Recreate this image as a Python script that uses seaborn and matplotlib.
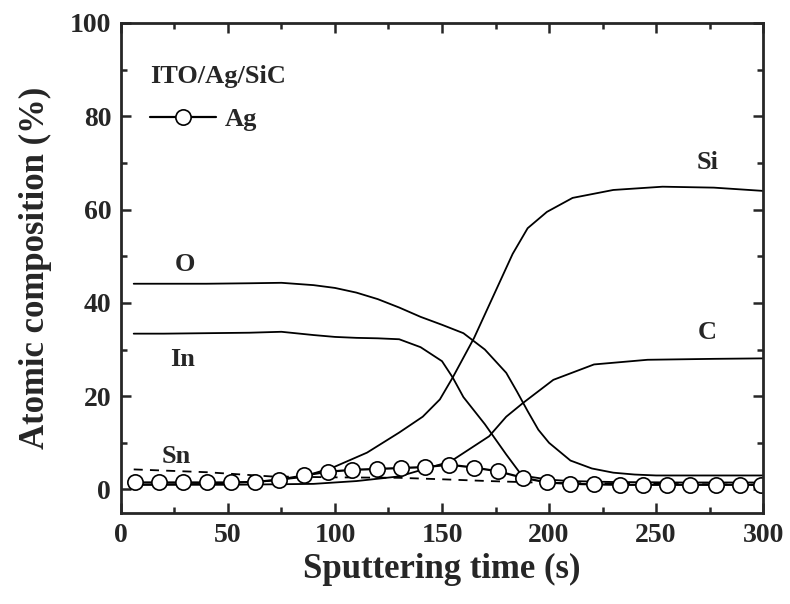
import numpy as np
import pandas as pd
import seaborn as sns
import matplotlib.pyplot as plt
from matplotlib.ticker import MultipleLocator

# depth profile values
t_o = [6, 20, 40, 60, 75, 90, 100, 110, 120, 130, 140, 150, 160, 170, 180, 185, 190, 195, 200, 210, 220, 230, 240, 250, 270, 300]
o = [44.1, 44.1, 44.1, 44.2, 44.3, 43.8, 43.2, 42.2, 40.8, 39.0, 37.0, 35.3, 33.5, 30.0, 25.0, 21.0, 16.8, 12.8, 10.0, 6.2, 4.5, 3.6, 3.2, 3.0, 3.0, 3.0]

t_in = [6, 20, 40, 60, 75, 90, 100, 110, 120, 130, 140, 150, 155, 160, 170, 180, 186, 190, 200, 210, 230, 260, 300]
ind = [33.4, 33.4, 33.5, 33.6, 33.8, 33.1, 32.7, 32.5, 32.4, 32.2, 30.5, 27.5, 24.0, 19.8, 14.0, 7.5, 3.8, 2.8, 2.1, 1.8, 1.6, 1.5, 1.5]

t_si = [6, 40, 68, 84, 99, 115, 130, 141, 149, 155, 165, 176, 183, 190, 199, 211, 230, 253, 277, 300]
si = [1.0, 1.2, 1.8, 2.6, 4.7, 7.9, 12.2, 15.6, 19.3, 24.0, 32.5, 43.5, 50.5, 56.0, 59.5, 62.5, 64.2, 64.9, 64.7, 64.0]

t_c = [6, 50, 90, 110, 130, 154, 172, 180, 188, 202, 221, 246, 277, 300]
c = [1.0, 1.0, 1.2, 1.8, 2.8, 6.0, 11.4, 15.6, 18.6, 23.5, 26.8, 27.8, 28.0, 28.1]

t_sn = [6, 40, 70, 100, 130, 149, 172, 200, 250, 300]
sn = [4.3, 3.7, 2.8, 2.6, 2.5, 2.2, 1.8, 1.4, 1.2, 1.0]

t_ag = [6.5, 17.8, 29, 40, 51.4, 62.5, 74, 85.5, 96.7, 108, 119.5, 131, 142, 153.5, 165, 176, 188, 199, 210, 221, 233, 244, 255, 266, 278, 289, 299]
ag = [1.5, 1.5, 1.5, 1.5, 1.5, 1.6, 2.1, 3.0, 3.8, 4.2, 4.4, 4.6, 4.8, 5.3, 4.7, 3.9, 2.5, 1.5, 1.2, 1.1, 1.0, 1.0, 1.0, 1.0, 1.0, 1.0, 1.0]

labels = {'O': (30, 48.2), 'In': (29, 27.8), 'Sn': (26, 7.1), 'Si': (274, 70), 'C': (274, 33.6)}

sns.set_style('ticks')
plt.rcParams['font.family'] = ['Liberation Serif', 'DejaVu Serif']
plt.rcParams['font.weight'] = 'bold'
plt.rcParams['axes.labelweight'] = 'bold'

fig = plt.figure(figsize=(7.9, 6.04), dpi=100)
ax = fig.add_axes([0.153, 0.151, 0.813, 0.811])

for tt, vv in [(t_o, o), (t_in, ind), (t_si, si), (t_c, c)]:
    sns.lineplot(x=tt, y=vv, ax=ax, color='black', lw=1.3)
sns.lineplot(x=t_sn, y=sn, ax=ax, color='black', lw=1.3, linestyle=(0, (5, 4)))
sns.lineplot(x=t_ag, y=ag, ax=ax, color='black', lw=1.6, marker='o', markersize=11,
             markerfacecolor='white', markeredgecolor='black', markeredgewidth=1.2, label='Ag')

for name, (lx, ly) in labels.items():
    ax.text(lx, ly, name, fontsize=19, fontweight='bold', ha='center', va='center')

ax.set_xlim(0, 300)
ax.set_ylim(-5, 100)
ax.xaxis.set_major_locator(MultipleLocator(50))
ax.xaxis.set_minor_locator(MultipleLocator(25))
ax.yaxis.set_major_locator(MultipleLocator(20))
ax.yaxis.set_minor_locator(MultipleLocator(10))
ax.tick_params(which='both', direction='in', top=True, right=True, width=1.8)
ax.tick_params(which='major', length=7, labelsize=20, pad=7)
ax.tick_params(which='minor', length=4.5)
for s in ax.spines.values():
    s.set_linewidth(2)
    s.set_visible(True)

ax.set_xlabel('Sputtering time (s)', fontsize=25, labelpad=4)
ax.set_ylabel('Atomic composition (%)', fontsize=25, labelpad=13)

leg = ax.legend(title='ITO/Ag/SiC', loc='upper left', bbox_to_anchor=(0.045, 0.915),
                frameon=False, fontsize=19, title_fontsize=19, handlelength=2.5,
                handletextpad=0.35, labelspacing=0.77, borderpad=0, borderaxespad=0)
leg._legend_box.align = 'left'
leg.get_title().set_fontweight('bold')

fig.savefig('out.png', dpi=100)
